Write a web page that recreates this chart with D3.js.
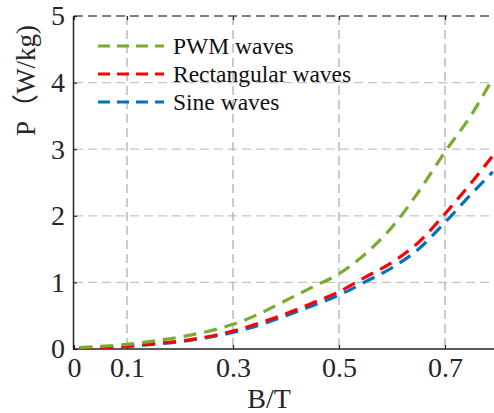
<!DOCTYPE html>
<html>
<head>
<meta charset="utf-8">
<script src="https://cdn.jsdelivr.net/npm/d3@7"></script>
<style>
  html, body { margin: 0; padding: 0; background: #fff; }
  svg { display: block; }
</style>
</head>
<body>
<svg id="chart" width="494" height="413"></svg>
<script>
// B/T values and loss curves (W/kg)
const bValues = [0.01, 0.05, 0.1, 0.15, 0.2, 0.25, 0.3, 0.35, 0.4, 0.45, 0.5, 0.55, 0.6, 0.65, 0.7, 0.75, 0.79];
const pwmWaves = [0.02, 0.04, 0.07, 0.12, 0.18, 0.26, 0.37, 0.53, 0.73, 0.93, 1.13, 1.43, 1.83, 2.36, 2.96, 3.52, 4.06];
const rectWaves = [0.01, 0.02, 0.04, 0.08, 0.12, 0.18, 0.27, 0.39, 0.53, 0.69, 0.86, 1.08, 1.3, 1.6, 2.03, 2.5, 2.9];
const sineWaves = [0.01, 0.02, 0.04, 0.07, 0.11, 0.17, 0.25, 0.36, 0.5, 0.65, 0.81, 1.01, 1.22, 1.5, 1.9, 2.33, 2.66];

const xTicks = [0, 0.1, 0.3, 0.5, 0.7];
const yTicks = [0, 1, 2, 3, 4, 5];

const seriesNames = ['PWM waves', 'Rectangular waves', 'Sine waves'];
const seriesColors = ['#77AC30', '#FF0000', '#0072BD'];
const seriesValues = [pwmWaves, rectWaves, sineWaves];

const serif = '"Liberation Serif", "DejaVu Serif", "Times New Roman", serif';

const svg = d3.select('#chart');
const width = +svg.attr('width');

const x = d3.scaleLinear().domain([0, 0.8]).range([74, 498]);
const y = d3.scaleLinear().domain([0, 5]).range([349, 16]);

// grid
const grid = svg.append('g');
grid.selectAll('.hgrid')
  .data(yTicks.filter((d) => d > 0))
  .enter()
  .append('line')
  .attr('x1', x(0))
  .attr('x2', width)
  .attr('y1', (d) => y(d))
  .attr('y2', (d) => y(d))
  .attr('stroke', (d) => (d === 5 ? '#555' : '#c4c4c4'))
  .attr('stroke-width', (d) => (d === 5 ? 1.4 : 1.2))
  .attr('stroke-dasharray', '9,5');

grid.selectAll('.vgrid')
  .data(xTicks.filter((d) => d > 0))
  .enter()
  .append('line')
  .attr('x1', (d) => x(d))
  .attr('x2', (d) => x(d))
  .attr('y1', y(5))
  .attr('y2', y(0))
  .attr('stroke', '#a8a8a8')
  .attr('stroke-width', 1.2)
  .attr('stroke-dasharray', '9,5');

// axes
const xAxis = svg.append('g')
  .attr('transform', `translate(0,${y(0)})`)
  .call(d3.axisBottom(x)
    .tickValues(xTicks)
    .tickSizeInner(-4)
    .tickSizeOuter(0)
    .tickPadding(8)
    .tickFormat((d) => (d === 0 ? '0' : d3.format('.1f')(d))));

const xTop = svg.append('g')
  .attr('transform', `translate(0,${y(5)})`)
  .call(d3.axisTop(x).tickValues(xTicks).tickSizeInner(-4).tickSizeOuter(0).tickFormat(''));
xTop.select('.domain').remove();

const yAxis = svg.append('g')
  .attr('transform', `translate(${x(0) - 1},0)`)
  .call(d3.axisLeft(y)
    .tickValues(yTicks)
    .tickSizeInner(-4)
    .tickSizeOuter(0)
    .tickPadding(8)
    .tickFormat(d3.format('d')));

[xAxis, yAxis, xTop].forEach((a) => {
  a.selectAll('.domain').attr('stroke', '#262626').attr('stroke-width', 1.5);
  a.selectAll('.tick line').attr('stroke', '#262626').attr('stroke-width', 1.2);
  a.selectAll('.tick text')
    .attr('fill', '#262626')
    .style('font-family', serif)
    .style('font-size', '28px');
});
xAxis.select('.domain').attr('d', `M${x(0) - 1},0H${width}`);

// curves (blue under red under green)
const line = d3.line()
  .x((d, i) => x(bValues[i]))
  .y((d) => y(d))
  .curve(d3.curveMonotoneX);

[2, 1, 0].forEach((k) => {
  svg.append('path')
    .datum(seriesValues[k])
    .attr('d', line)
    .attr('fill', 'none')
    .attr('stroke', seriesColors[k])
    .attr('stroke-width', 3.2)
    .attr('stroke-dasharray', '13,8');
});

// legend
const legend = svg.append('g');
seriesNames.forEach((name, i) => {
  const ly = 46 + i * 28;
  legend.append('line')
    .attr('x1', 98)
    .attr('x2', 164)
    .attr('y1', ly)
    .attr('y2', ly)
    .attr('stroke', seriesColors[i])
    .attr('stroke-width', 3.2)
    .attr('stroke-dasharray', '12,7');
  legend.append('text')
    .attr('x', 173)
    .attr('y', ly + 8)
    .attr('fill', '#111')
    .style('font-family', serif)
    .style('font-size', '23.5px')
    .text(name);
});

// axis titles
svg.append('text')
  .attr('x', 269)
  .attr('y', 408)
  .attr('text-anchor', 'middle')
  .attr('fill', '#262626')
  .style('font-family', serif)
  .style('font-size', '28px')
  .text('B/T');

const yTitle = svg.append('text')
  .attr('transform', 'translate(35,136) rotate(-90)')
  .attr('fill', '#262626')
  .style('font-family', serif)
  .style('font-size', '27px');
yTitle.append('tspan').text('P');
yTitle.append('tspan').style('font-family', '"Noto Sans CJK SC", sans-serif').text('（');
yTitle.append('tspan').text('W/kg)');
</script>
</body>
</html>
